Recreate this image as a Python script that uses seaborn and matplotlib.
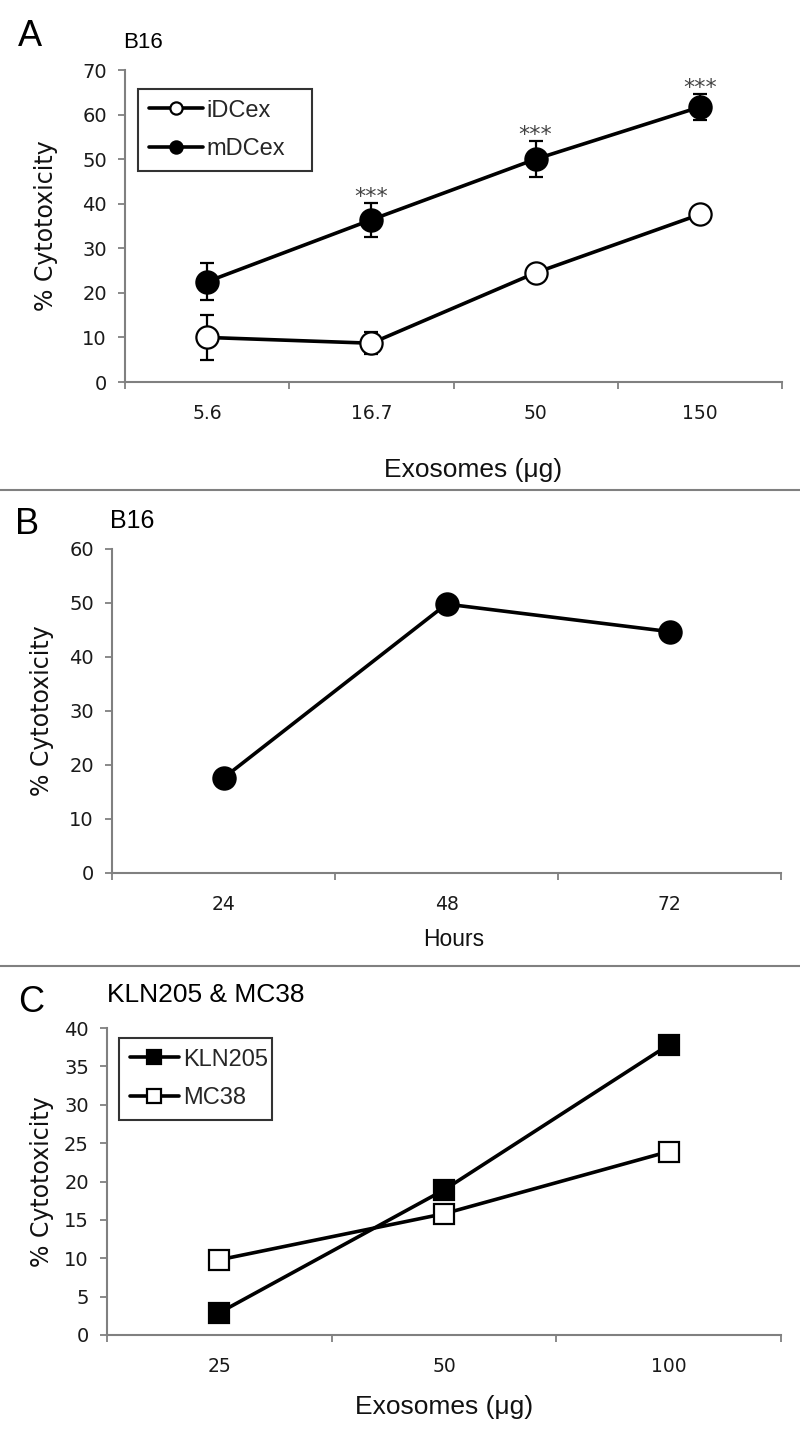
import numpy as np
import seaborn as sns
import matplotlib.pyplot as plt
from matplotlib.lines import Line2D

# panel A: cytotoxicity vs exosome dose, B16
doses_a = ['5.6', '16.7', '50', '150']
idc_mean = [10.0, 8.7, 24.5, 37.6]
idc_err = [5.0, 2.5, 1.0, 1.0]
mdc_mean = [22.5, 36.4, 50.0, 61.7]
mdc_err = [4.2, 3.8, 4.0, 3.0]
mdc_stars = ['', '***', '***', '***']

# panel B: cytotoxicity vs time, B16
hours = ['24', '48', '72']
b16_time = [17.6, 49.8, 44.7]

# panel C: KLN205 & MC38
doses_c = ['25', '50', '100']
kln205 = [2.9, 18.9, 37.8]
mc38 = [9.8, 15.8, 23.9]

sns.set_theme(style='white')
plt.rcParams['font.family'] = ['DejaVu Sans']
LAB = 'Liberation Sans'
GREY = '#808080'

W, H = 800, 1433
fig = plt.figure(figsize=(W / 100, H / 100), dpi=100)


def add_ax(left, right, top, bottom):
    return fig.add_axes([left / W, 1 - bottom / H, (right - left) / W, (bottom - top) / H])


def style_ax(ax, labels, ymax, ystep):
    n = len(labels)
    ax.set_xlim(-0.5, n - 0.5)
    ax.set_ylim(0, ymax)
    ax.set_yticks(np.arange(0, ymax + 0.1, ystep))
    ax.set_xticks(np.arange(-0.5, n, 1.0))
    ax.set_xticklabels([])
    ax.set_xticks(np.arange(n), minor=True)
    ax.set_xticklabels(labels, minor=True)
    for s in ['top', 'right']:
        ax.spines[s].set_visible(False)
    for s in ['left', 'bottom']:
        ax.spines[s].set_color(GREY)
        ax.spines[s].set_linewidth(1.5)
    ax.tick_params(axis='both', which='major', direction='out', length=5, width=1.3,
                   color=GREY, labelsize=14, labelcolor='#1a1a1a', left=True, bottom=True)
    ax.tick_params(axis='y', pad=8)
    ax.tick_params(axis='x', which='minor', length=0, pad=16, labelsize=13.5,
                   labelcolor='#1a1a1a', bottom=True)
    ax.grid(False)


def ylab(ax, xc):
    ax.set_ylabel('% Cytotoxicity', fontsize=17, color='#111111')
    ax.yaxis.label.set_va('center')
    ax.yaxis.set_label_coords(xc, 0.5)


def xlab(ax, text, size, xc, yc):
    ax.set_xlabel(text, fontsize=size, family=LAB, color='#111111')
    ax.xaxis.label.set_va('center')
    ax.xaxis.set_label_coords(xc, yc)


line_kw = dict(color='black', linewidth=2.6, markeredgecolor='black', markeredgewidth=1.6)

# ---- A
axA = add_ax(125, 782, 70, 382)
pos_a = np.arange(len(doses_a))
axA.errorbar(pos_a, idc_mean, yerr=idc_err, fmt='none', ecolor='black',
             elinewidth=1.6, capsize=5, capthick=1.6, zorder=1)
axA.errorbar(pos_a, mdc_mean, yerr=mdc_err, fmt='none', ecolor='black',
             elinewidth=1.6, capsize=5, capthick=1.6, zorder=1)
sns.lineplot(x=pos_a, y=idc_mean, ax=axA, marker='o', markersize=16,
             markerfacecolor='white', label='iDCex', zorder=3, **line_kw)
sns.lineplot(x=pos_a, y=mdc_mean, ax=axA, marker='o', markersize=16,
             markerfacecolor='black', label='mDCex', zorder=3, **line_kw)
for x, m, e, s in zip(pos_a, mdc_mean, mdc_err, mdc_stars):
    if s:
        axA.annotate(s, (x, m + e), xytext=(0, 0), textcoords='offset points',
                     ha='center', va='baseline', fontsize=16, color='#444444')
style_ax(axA, doses_a, 70, 10)
ylab(axA, -0.12)
xlab(axA, 'Exosomes (\u03bcg)', 19, 0.53, (382 - 470) / 312)
legA = axA.legend(loc='upper left', bbox_to_anchor=(0.0198, 0.5, 0.265, 0.439),
                  mode='expand', borderaxespad=0, frameon=True, fancybox=False,
                  edgecolor='black', markerscale=0.55, handlelength=2.3,
                  handletextpad=0.15, labelspacing=0.7, borderpad=0.45,
                  prop={'family': LAB, 'size': 17})
legA.get_frame().set_linewidth(1.5)

# ---- B
axB = add_ax(112, 781, 549, 873)
pos_b = np.arange(len(hours))
sns.lineplot(x=pos_b, y=b16_time, ax=axB, marker='o', markersize=16,
             markerfacecolor='black', zorder=3, **line_kw)
style_ax(axB, hours, 60, 10)
ylab(axB, -0.105)
xlab(axB, 'Hours', 16.5, 0.51, (873 - 940) / 324)

# ---- C
axC = add_ax(107, 781, 1028, 1335)
pos_c = np.arange(len(doses_c))
sns.lineplot(x=pos_c, y=kln205, ax=axC, marker='s', markersize=15,
             markerfacecolor='black', label='KLN205', zorder=3, **line_kw)
sns.lineplot(x=pos_c, y=mc38, ax=axC, marker='s', markersize=15,
             markerfacecolor='white', label='MC38', zorder=3, **line_kw)
style_ax(axC, doses_c, 40, 5)
ylab(axC, -0.097)
xlab(axC, 'Exosomes (\u03bcg)', 19, 0.5, (1335 - 1407) / 307)
legC = axC.legend(loc='upper left', bbox_to_anchor=(0.0178, 0.5, 0.227, 0.467),
                  mode='expand', borderaxespad=0, frameon=True, fancybox=False,
                  edgecolor='black', markerscale=0.7, handlelength=2.1,
                  handletextpad=0.15, labelspacing=0.7, borderpad=0.45,
                  prop={'family': LAB, 'size': 17})
legC.get_frame().set_linewidth(1.5)

# panel letters, cell-line titles, separators
for t, x, y in [('A', 30, 36), ('B', 27, 524), ('C', 31, 1003)]:
    fig.text(x / W, 1 - y / H, t, ha='center', va='center', fontsize=26,
             family=LAB, color='black')
for t, x, y, s in [('B16', 123, 42, 16), ('B16', 110, 521, 18), ('KLN205 & MC38', 107, 995, 19)]:
    fig.text(x / W, 1 - y / H, t, ha='left', va='center', fontsize=s, family=LAB,
             color='black')
for y in [490, 966]:
    fig.add_artist(Line2D([0, 1], [1 - y / H, 1 - y / H], transform=fig.transFigure,
                          color=GREY, linewidth=1.5))

fig.savefig('out.png', dpi=100, facecolor='white')
